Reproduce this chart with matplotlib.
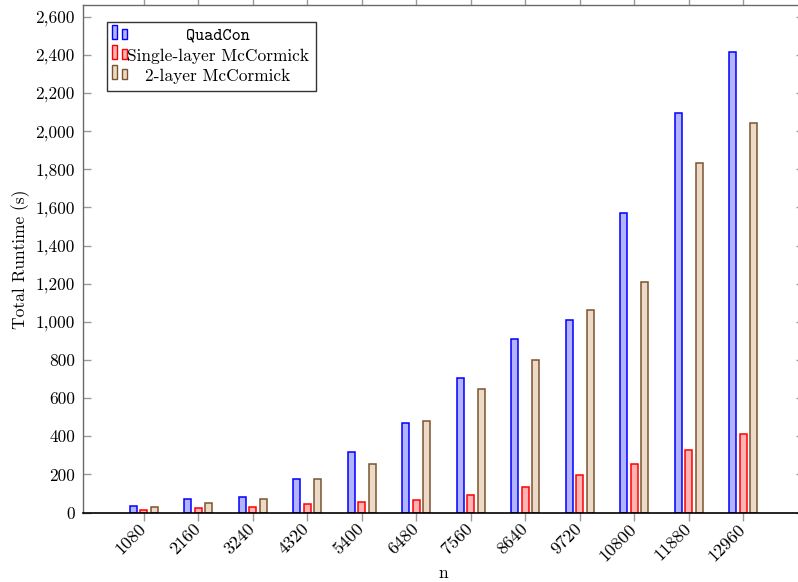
import numpy as np
import matplotlib
matplotlib.use("Agg")
import matplotlib.pyplot as plt
from matplotlib.patches import Rectangle
from matplotlib.ticker import FuncFormatter, MultipleLocator

# problem sizes and total runtimes (seconds)
sizes = [1080, 2160, 3240, 4320, 5400, 6480, 7560, 8640, 9720, 10800, 11880, 12960]
quadcon = [32, 72, 80, 174, 319, 467, 708, 909, 1009, 1569, 2093, 2415]
single_mc = [11, 21, 29, 43, 54, 67, 93, 135, 197, 256, 327, 413]
two_layer_mc = [27, 48, 69, 177, 256, 480, 646, 798, 1061, 1207, 1831, 2044]

series_names = ["QuadCon", "Single-layer McCormick", "2-layer McCormick"]
edge_cols = ["#0000ff", "#ff0000", "#7a5330"]
fill_cols = ["#b3b3ff", "#ffb3b3", "#ecd9c6"]

W, H = 798, 582
fig = plt.figure(figsize=(W / 100, H / 100), dpi=100)

# axes box in pixels: left, right, top, bottom
L, R, T, B = 83.3, 803.6, 5.3, 512.5
ax = fig.add_axes([L / W, (H - B) / H, (R - L) / W, (B - T) / H])

rm = "cmr10"
tt = "cmtt10"
fs = 12.5

x = np.arange(len(sizes))
bw = 0.128
offs = [-0.19, 0.0, 0.19]
for vals, off, ec, fc in zip([quadcon, single_mc, two_layer_mc], offs, edge_cols, fill_cols):
    ax.bar(x + off, vals, width=bw, color=fc, edgecolor=ec, linewidth=1.1, zorder=2)

ax.set_xlim(-1.108, len(sizes) - 1 + 1.108)
ax.set_ylim(0, 2660)

ax.set_xticks(x)
ax.set_xticklabels([str(s) for s in sizes], rotation=45, ha="right", va="center",
                   rotation_mode="anchor", fontfamily=rm, fontsize=13)
ax.yaxis.set_major_locator(MultipleLocator(200))
ax.yaxis.set_major_formatter(FuncFormatter(lambda v, p: f"{int(v):,}"))
for lab in ax.get_yticklabels():
    lab.set_fontfamily(rm)
    lab.set_fontsize(fs)

ax.tick_params(axis="x", top=True, bottom=True, direction="out", length=6,
               width=1.0, color="#9a9a9a", pad=4)
ax.tick_params(axis="y", left=True, right=True, direction="in", length=6,
               width=1.0, color="#9a9a9a", pad=6)

for side in ["left", "top", "right"]:
    ax.spines[side].set_color("#6a6a6a")
    ax.spines[side].set_linewidth(1.0)
ax.spines["bottom"].set_color("black")
ax.spines["bottom"].set_linewidth(1.2)

ax.set_ylabel("Total Runtime (s)", fontfamily=rm, fontsize=fs, labelpad=4)
ax.set_xlabel("n", fontfamily=rm, fontsize=fs, labelpad=1)


# legend box with twin-bar swatches, drawn in figure pixels
def fx(px):
    return px / W


def fy(py):
    return (H - py) / H


tf = fig.transFigure
fig.add_artist(Rectangle((fx(107), fy(91)), fx(316) - fx(107), fy(22) - fy(91),
                         transform=tf, facecolor="white", edgecolor="#333333",
                         linewidth=1.0, zorder=5))
row_y = [36, 56, 76]
for i, (name, ec, fc) in enumerate(zip(series_names, edge_cols, fill_cols)):
    base = row_y[i] + 2.7
    fig.add_artist(Rectangle((fx(111.5), fy(base)), fx(5), 14 / H,
                             transform=tf, facecolor=fc, edgecolor=ec, linewidth=1.0, zorder=6))
    fig.add_artist(Rectangle((fx(121.5), fy(base)), fx(5), 10 / H,
                             transform=tf, facecolor=fc, edgecolor=ec, linewidth=1.0, zorder=6))
    fig.text(fx(218), fy(row_y[i]), name, ha="center", va="center",
             fontfamily=tt if i == 0 else rm, fontsize=fs, zorder=7)

fig.savefig("out.png", dpi=100)
